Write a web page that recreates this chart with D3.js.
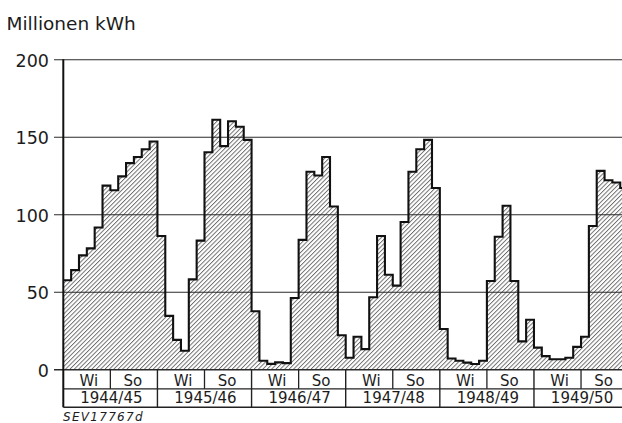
<!DOCTYPE html>
<html><head><meta charset="utf-8">
<script src="https://cdn.jsdelivr.net/npm/d3@7"></script>
<style>
body{margin:0;background:#fff}
svg{display:block}
text{font-family:"DejaVu Sans",sans-serif;fill:#1c1c1c}
</style>
</head><body>
<svg id="c" width="622" height="423"></svg>
<script>
// ---- data (Millionen kWh, monthly, Oct..Sep per hydrological year) ----
const years = ["1944/45","1945/46","1946/47","1947/48","1948/49","1949/50"];
const halves = ["Wi","So"];
const yTicks = [0,50,100,150,200];
const v1944 = [57.5, 64, 73.5, 78, 91.5, 118.5, 115.5, 124.5, 133, 137, 142, 147];
const v1945 = [86, 34.5, 19, 12, 58, 83, 140, 161, 144, 160, 156.5, 148];
const v1946 = [37.5, 5.5, 3.5, 4.5, 4, 46, 83.5, 127.5, 125, 137, 105, 22];
const v1947 = [7.5, 21, 13, 46.5, 86, 61, 54, 95, 127.5, 142, 148, 117];
const v1948 = [26, 7, 5.5, 4.3, 3.4, 5.5, 57, 85.5, 105.5, 57, 18, 32];
const v1949 = [14, 8.5, 6.5, 6.5, 7.5, 14.5, 21, 92.5, 128, 122, 120.5, 117];
const series = [v1944, v1945, v1946, v1947, v1948, v1949];
const values = series.flat();
const nMonths = values.length;

const svg = d3.select("#c");
const W = 622;
const x = d3.scaleLinear().domain([0, nMonths]).range([63.3, 628.1]);
const y = d3.scaleLinear().domain([0, 200]).range([369.3, 59.3]);
const row1 = 388.8, row2 = 407.3;

// hatch pattern
const defs = svg.append("defs");
defs.append("pattern").attr("id","hatch")
  .attr("patternUnits","userSpaceOnUse")
  .attr("width",3.1).attr("height",10)
  .attr("patternTransform","rotate(45)")
  .append("line").attr("x1",0.5).attr("y1",0).attr("x2",0.5).attr("y2",10)
  .attr("stroke","#5a5a5a").attr("stroke-width",0.85);

// data points for step curve
const pts = values.map((v,i)=>[i,v]);
pts.push([nMonths, values[nMonths-1]]);

const area = d3.area().x(d=>x(d[0])).y0(y(0)).y1(d=>y(d[1])).curve(d3.curveStepAfter);
const line = d3.line().x(d=>x(d[0])).y(d=>y(d[1])).curve(d3.curveStepAfter);

svg.append("path").datum(pts).attr("d",area).attr("fill","url(#hatch)");

// gridlines + tick labels
const axis = d3.axisLeft(y).tickValues(yTicks).tickSize(-(W-54)).tickPadding(5).tickFormat(d3.format("d"));
const g = svg.append("g").attr("transform","translate(54,0)").call(axis);
g.select(".domain").remove();
g.selectAll(".tick line").attr("stroke","#2a2a2a").attr("stroke-width",d=>d===0?1.6:1.1);
g.selectAll(".tick text").attr("font-size",17.5).attr("dy","0.4em").attr("fill","#1c1c1c")
  .style("font-family","'DejaVu Sans',sans-serif");

// step outline
svg.append("path").datum(pts).attr("d",line).attr("fill","none")
  .attr("stroke","#111").attr("stroke-width",2.1).attr("stroke-linejoin","miter");

// y axis line
svg.append("line").attr("x1",x(0)).attr("x2",x(0)).attr("y1",y(200)).attr("y2",row2)
  .attr("stroke","#111").attr("stroke-width",2);

// table
svg.append("line").attr("x1",x(0)).attr("x2",W).attr("y1",row1).attr("y2",row1)
  .attr("stroke","#222").attr("stroke-width",1.3);
svg.append("line").attr("x1",x(0)).attr("x2",W).attr("y1",row2).attr("y2",row2)
  .attr("stroke","#222").attr("stroke-width",1.4);

years.forEach((yr,i)=>{
  const s = i*12, m = s+6, e = s+12;
  svg.append("line").attr("x1",x(e)).attr("x2",x(e)).attr("y1",y(0)).attr("y2",row2)
    .attr("stroke","#222").attr("stroke-width",1.4);
  svg.append("line").attr("x1",x(m)).attr("x2",x(m)).attr("y1",y(0)).attr("y2",row1)
    .attr("stroke","#222").attr("stroke-width",1.3);
  halves.forEach((h,k)=>{
    svg.append("text").attr("x",(x(s+k*6)+x(s+k*6+6))/2 + (k===0?2:-1)).attr("y",386)
      .attr("text-anchor","middle").attr("font-size",15).text(h);
  });
  svg.append("text").attr("x",(x(s)+x(e))/2 + 1).attr("y",402.8)
    .attr("text-anchor","middle").attr("font-size",15).text(yr);
});

// titles
svg.append("text").attr("x",6.5).attr("y",29.5).attr("font-size",18.5).text("Millionen kWh");
svg.append("text").attr("x",63).attr("y",421).attr("font-size",12).attr("font-style","italic")
  .attr("letter-spacing",1.3).text("SEV17767d");
</script>
</body></html>
